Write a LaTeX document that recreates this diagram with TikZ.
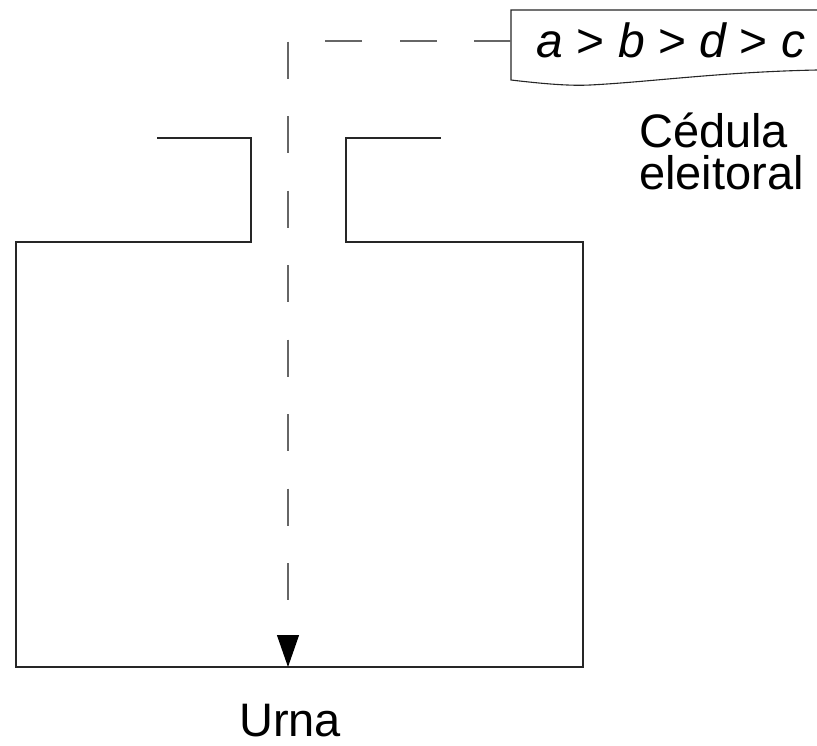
\documentclass[tikz,border=0pt]{standalone}
\usepackage{fontspec}
\setmainfont{Liberation Sans}
\usetikzlibrary{arrows.meta}
\begin{document}
\begin{tikzpicture}[x=1pt,y=-1pt,
  urnline/.style={line width=1.1pt,black!85},
  votepath/.style={line width=1.1pt,black!60,dash pattern=on 37pt off 37.5pt,
    -{Triangle[length=32pt,width=22pt,black]}},
  lbl/.style={inner sep=0pt,font=\fontsize{47}{42}\selectfont}]
\useasboundingbox (0,0) rectangle (817,745);
% urn
\draw[urnline] (157,138) -- (251,138) -- (251,242) -- (16,242) -- (16,667) -- (583,667) -- (583,242) -- (346,242) -- (346,138) -- (441,138);
% ballot paper
\draw[urnline] (817,10) -- (511,10) -- (511,80)
  .. controls (545,84) and (570,86) .. (590,85)
  .. controls (650,82) and (720,72) .. (817,70);
\node[lbl,anchor=base,font=\fontsize{48}{50}\selectfont] (ballot) at (671,57) {\itshape a \upshape> \itshape b \upshape> \itshape d \upshape> \itshape c};
\coordinate (start) at (511,41);
\coordinate (corner) at (288,41);
\coordinate (bottom) at (288,667);
\draw[votepath] (start) -- (corner) -- (bottom);
\node[lbl,anchor=base west] (ced1) at (639,147) {Cédula};
\node[lbl,anchor=base west] (ced2) at (639,189) {eleitoral};
\node[lbl,anchor=base] (urna) at (290,736) {Urna};
\end{tikzpicture}
\end{document}
